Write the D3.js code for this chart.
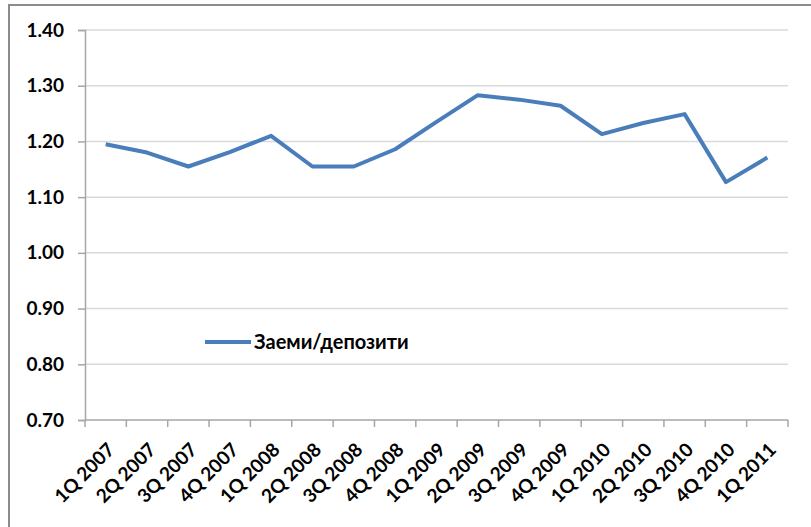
<!DOCTYPE html>
<html>
<head>
<meta charset="utf-8">
<script src="https://cdn.jsdelivr.net/npm/d3@7"></script>
<style>
    body { margin: 0; background: #fff; }
    svg { display: block; }
    text { font-family: Lato, "Open Sans", sans-serif; font-weight: bold; fill: #000; }
</style>
</head>
<body>
<div id="chart"></div>
<script>
    // quarters on the x axis
    var quarters = ["1Q 2007", "2Q 2007", "3Q 2007", "4Q 2007",
        "1Q 2008", "2Q 2008", "3Q 2008", "4Q 2008",
        "1Q 2009", "2Q 2009", "3Q 2009", "4Q 2009",
        "1Q 2010", "2Q 2010", "3Q 2010", "4Q 2010", "1Q 2011"];
    // loans / deposits ratio
    var ratio = [1.195, 1.180, 1.155, 1.181, 1.210, 1.155, 1.155, 1.186,
        1.235, 1.283, 1.275, 1.264, 1.213, 1.233, 1.249, 1.127, 1.171];
    var yTicks = [0.70, 0.80, 0.90, 1.00, 1.10, 1.20, 1.30, 1.40];
    var seriesName = "Заеми/депозити";

    var width = 811, height = 527;
    var margin = { top: 30, left: 85, right: 23, bottom: 107 };

    var svg = d3.select("#chart")
        .append("svg")
        .attr("width", width)
        .attr("height", height);

    // outer frame (only top and left edges visible in the cropped picture)
    svg.append("rect")
        .attr("x", 9)
        .attr("y", 5)
        .attr("width", width + 20)
        .attr("height", height + 20)
        .attr("fill", "none")
        .attr("stroke", "#8c8c8c")
        .attr("stroke-width", 2);

    var x = d3.scaleBand()
        .domain(quarters)
        .range([margin.left, width - margin.right]);

    var y = d3.scaleLinear()
        .domain([0.7, 1.4])
        .range([height - margin.bottom, margin.top]);

    // gridlines
    svg.append("g")
        .selectAll("line")
        .data(yTicks.slice(1))
        .enter().append("line")
        .attr("x1", margin.left)
        .attr("x2", width - margin.right)
        .attr("y1", function (d) { return y(d); })
        .attr("y2", function (d) { return y(d); })
        .attr("stroke", "#d9d9d9")
        .attr("stroke-width", 1.5);

    // y axis
    var yAxis = svg.append("g")
        .attr("transform", "translate(" + margin.left + ",0)")
        .call(d3.axisLeft(y).tickValues(yTicks).tickFormat(d3.format(".2f")).tickSize(7).tickPadding(14));
    yAxis.select(".domain").attr("stroke", "#a6a6a6").attr("stroke-width", 1.5);
    yAxis.selectAll(".tick line").attr("stroke", "#a6a6a6").attr("stroke-width", 1.5);
    yAxis.selectAll("text").attr("font-size", "19px").attr("font-family", null).attr("fill", "#000");

    // x axis, ticks on band edges
    var xAxisY = y(0.7);
    var xg = svg.append("g");
    xg.append("line")
        .attr("x1", margin.left)
        .attr("x2", width - margin.right)
        .attr("y1", xAxisY)
        .attr("y2", xAxisY)
        .attr("stroke", "#a6a6a6")
        .attr("stroke-width", 1.5);
    var edges = quarters.map(function (q) { return x(q); });
    edges.push(width - margin.right);
    xg.selectAll("line.tk")
        .data(edges)
        .enter().append("line")
        .attr("class", "tk")
        .attr("x1", function (d) { return d; })
        .attr("x2", function (d) { return d; })
        .attr("y1", xAxisY)
        .attr("y2", xAxisY + 7)
        .attr("stroke", "#a6a6a6")
        .attr("stroke-width", 1.5);
    xg.selectAll("text")
        .data(quarters)
        .enter().append("text")
        .attr("transform", function (d) {
            return "translate(" + (x(d) + x.bandwidth() / 2 + 10) + "," + (xAxisY + 31) + ") rotate(-45)";
        })
        .attr("text-anchor", "end")
        .attr("font-size", "19px")
        .text(function (d) { return d; });

    // the line
    var line = d3.line()
        .x(function (d, i) { return x(quarters[i]) + x.bandwidth() / 2; })
        .y(function (d) { return y(d); });

    svg.append("path")
        .datum(ratio)
        .attr("d", line)
        .attr("fill", "none")
        .attr("stroke", "#4a7ebb")
        .attr("stroke-width", 4)
        .attr("stroke-linejoin", "round");

    // legend
    var legend = svg.append("g").attr("transform", "translate(205,342)");
    legend.append("line")
        .attr("x1", 0)
        .attr("x2", 46)
        .attr("stroke", "#4a7ebb")
        .attr("stroke-width", 4);
    legend.append("text")
        .attr("x", 49)
        .attr("dy", "0.35em")
        .attr("font-size", "20px")
        .text(seriesName);
</script>
</body>
</html>
